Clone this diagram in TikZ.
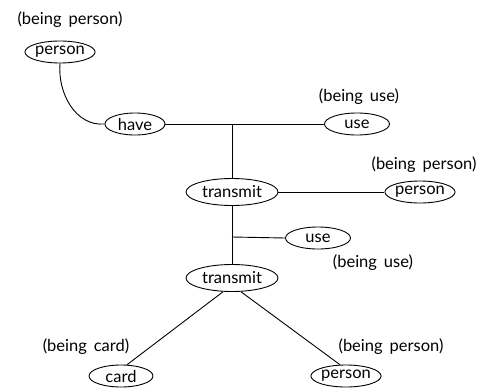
\documentclass[tikz,border=0pt]{standalone}
\usepackage{fontspec}
\setmainfont{Lato}
\usepackage{tikz}
\usetikzlibrary{shapes.geometric, positioning, calc}

\begin{document}
\begin{tikzpicture}[x=1pt, y=-1pt,
    concept/.style={draw, ellipse, line width=0.9pt, inner sep=0pt,
                    minimum height=22pt, font=\fontsize{16.5}{18}\selectfont},
    being/.style={font=\fontsize{16.5}{18}\selectfont},
    link/.style={line width=0.9pt}]

\useasboundingbox (0,0) rectangle (484,388);

% Concepts
\node[concept, minimum width=65pt] (person) at (60,52) {person};
\node[concept, minimum width=60pt] (have) at (135,124) {have};
\node[concept, minimum width=65pt] (use) at (357,124) {use};
\node[concept, minimum width=92pt, minimum height=27pt] (transmit) at (232,192) {transmit};
\node[concept, minimum width=65pt] (receiver) at (420,192) {person};
\node[concept, minimum width=65pt] (tool) at (318,238) {use};
\node[concept, minimum width=92pt, minimum height=27pt] (passon) at (232,278) {transmit};
\node[concept, minimum width=64pt] (card) at (121,376) {card};
\node[concept, minimum width=65pt] (holder) at (346,376) {person};

% Type labels
\node[being] (tperson) at (70,20) {(being\, person)};
\node[being] (tuse) at (359,97) {(being\, use)};
\node[being] (treceiver) at (424,165) {(being\, person)};
\node[being] (ttool) at (373,263) {(being\, use)};
\node[being] (tcard) at (86,347) {(being\, card)};
\node[being] (tholder) at (391,347) {(being\, person)};

% Junctions
\coordinate (j1) at (232,124);
\coordinate (j2) at (232,237);

% Links
\draw[link] (person.south) to[out=265, in=185] (have.west);
\draw[link] (have.east) -- (use.west);
\draw[link] (j1) -- (transmit.north);
\draw[link] (transmit.east) -- (receiver.west);
\draw[link] (transmit.south) -- (passon.north);
\draw[link] (j2) -- (tool.west);
\draw[link] (passon.237) -- (card.62);
\draw[link] (passon.-57) -- (holder.118);

\end{tikzpicture}
\end{document}
